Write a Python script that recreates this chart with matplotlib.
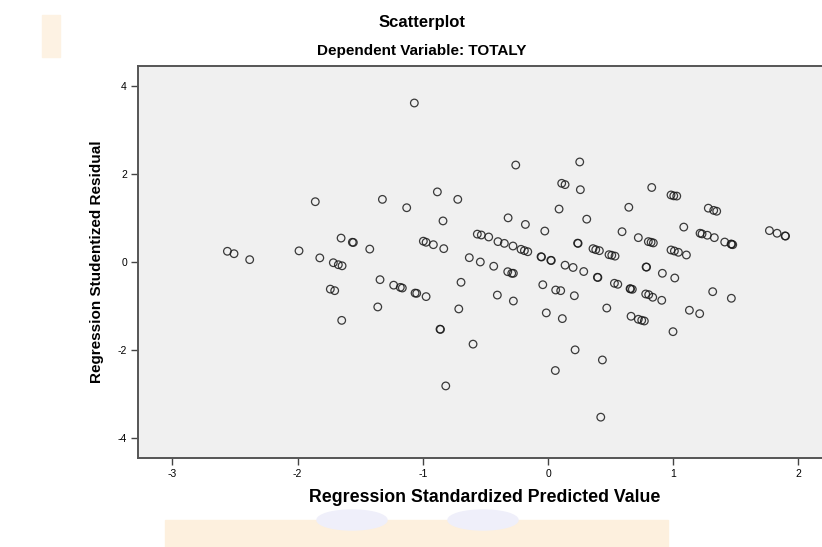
import numpy as np
import matplotlib
matplotlib.use("Agg")
import matplotlib.pyplot as plt
import matplotlib.patches as mpatches

# standardized predicted value (x) and studentized residual (y)
pred = [-1.068, -1.859, -1.323, -1.129, -1.653, -1.563, -1.555, -1.424, -2.561, -2.508,
        -2.383, -1.989, -1.823, -1.715, -1.675, -1.645, -1.342, -1.233, -1.180, -1.164,
        -1.062, -1.049, -0.974, -1.739, -1.704, -1.360, -1.648, -0.258, 0.253, 0.109,
        0.136, 0.258, -0.884, -0.721, 0.088, -0.839, -0.319, -0.181, 0.309, -0.026,
        0.240, 0.236, -0.996, -0.974, -0.916, -0.833, -0.565, -0.533, -0.474, -0.400,
        -0.349, -0.280, -0.216, -0.189, -0.162, -0.629, -0.541, -0.434, -0.056, -0.052,
        0.022, 0.026, 0.136, 0.200, 0.285, 0.359, 0.381, 0.410, 0.487, 0.509,
        0.535, -0.322, -0.290, -0.277, 0.394, 0.398, -0.695, -0.713, -0.863, -0.859,
        -0.599, -0.817, -0.405, -0.277, -0.042, 0.061, 0.101, 0.210, -0.014, 0.114,
        0.469, 0.216, 0.434, 0.058, 0.421, 0.828, 0.982, 1.004, 1.028, 0.645,
        1.280, 1.323, 1.347, 1.084, 0.591, 0.721, 0.801, 0.823, 0.841, 1.214,
        1.230, 1.272, 1.328, 1.411, 1.462, 1.466, 1.475, 1.768, 1.829, 1.893,
        1.897, 0.982, 1.009, 1.041, 1.105, 0.783, 0.787, 0.913, 1.012, 0.530,
        0.557, 0.655, 0.659, 0.673, 0.780, 0.804, 0.836, 0.908, 1.315, 1.464,
        0.663, 0.721, 0.748, 0.769, 1.129, 1.211, 0.998]
resid = [3.62, 1.377, 1.43, 1.24, 0.55, 0.455, 0.45, 0.30, 0.25, 0.195,
         0.06, 0.26, 0.10, -0.01, -0.055, -0.08, -0.395, -0.52, -0.57, -0.585,
         -0.70, -0.705, -0.78, -0.61, -0.645, -1.015, -1.32, 2.21, 2.28, 1.795,
         1.765, 1.65, 1.60, 1.43, 1.21, 0.94, 1.01, 0.86, 0.98, 0.71,
         0.43, 0.435, 0.48, 0.455, 0.40, 0.31, 0.64, 0.62, 0.575, 0.47,
         0.43, 0.37, 0.295, 0.265, 0.24, 0.105, 0.007, -0.09, 0.127, 0.12,
         0.045, 0.04, -0.066, -0.118, -0.21, 0.31, 0.286, 0.264, 0.173, 0.16,
         0.14, -0.214, -0.25, -0.25, -0.34, -0.345, -0.455, -1.06, -1.52, -1.525,
         -1.86, -2.81, -0.745, -0.88, -0.51, -0.63, -0.645, -0.76, -1.15, -1.28,
         -1.04, -1.99, -2.22, -2.46, -3.52, 1.70, 1.53, 1.51, 1.505, 1.25,
         1.23, 1.18, 1.16, 0.80, 0.695, 0.56, 0.47, 0.455, 0.44, 0.66,
         0.645, 0.615, 0.56, 0.46, 0.415, 0.41, 0.40, 0.72, 0.66, 0.60,
         0.595, 0.28, 0.257, 0.227, 0.166, -0.107, -0.11, -0.25, -0.357, -0.477,
         -0.50, -0.60, -0.605, -0.614, -0.72, -0.736, -0.795, -0.864, -0.668, -0.818,
         -1.227, -1.295, -1.318, -1.334, -1.09, -1.168, -1.577]

x_ticks = [-3, -2, -1, 0, 1, 2]
y_ticks = [-4, -2, 0, 2, 4]

plt.rcParams['font.family'] = ['Liberation Sans', 'DejaVu Sans']
plt.rcParams['axes.unicode_minus'] = False

fig = plt.figure(figsize=(8.22, 5.47), dpi=100)

# faint watermark left in the scanned picture
W, H = 822, 547
fig.patches.append(mpatches.Rectangle((165 / W, 0), 503 / W, 27 / H,
                                      transform=fig.transFigure,
                                      color='#fdf0de', zorder=0))
for cx in (352, 483):
    fig.patches.append(mpatches.Ellipse((cx / W, 27 / H), 70 / W, 20 / H,
                                        transform=fig.transFigure,
                                        color='#efeffa', zorder=0))
fig.patches.append(mpatches.Rectangle((42 / W, 490 / H), 18 / W, 42 / H,
                                      transform=fig.transFigure,
                                      color='#fdf2e3', zorder=0))

ax = fig.add_axes([138 / W, 89 / H, 684 / W, 392 / H])
ax.set_facecolor('#f0f0f0')

ax.scatter(pred, resid, s=30, facecolors='none', edgecolors='#1a1a1a',
           linewidths=0.9, alpha=0.85, zorder=3)

ax.set_xlim(-3.275, 2.188)
ax.set_ylim(-4.448, 4.461)
ax.set_xticks(x_ticks)
ax.set_yticks(y_ticks)
ax.tick_params(direction='out', length=5, width=1, color='#444444',
               labelsize=7.5, pad=3)
for sp in ax.spines.values():
    sp.set_color('#555555')
    sp.set_linewidth(1.4)
ax.spines['right'].set_visible(False)

fig.text(0.513, 1 - 22 / H, 'Scatterplot', ha='center', va='center',
         fontsize=12, fontweight='bold')
fig.text(0.513, 1 - 51 / H, 'Dependent Variable: TOTALY', ha='center',
         va='center', fontsize=11, fontweight='bold')
fig.text(485 / W, 1 - 497 / H, 'Regression Standardized Predicted Value',
         ha='center', va='center', fontsize=12.8, fontweight='bold')
fig.text(97 / W, 1 - 262 / H, 'Regression Studentized Residual',
         ha='center', va='center', rotation=90, fontsize=11, fontweight='bold')

fig.savefig('out.png', dpi=100)
